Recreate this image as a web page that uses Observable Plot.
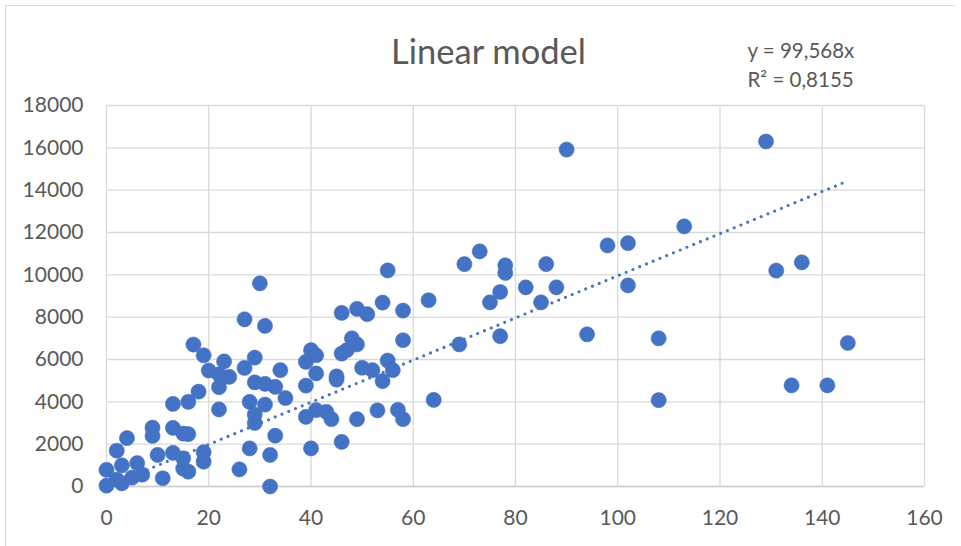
<!DOCTYPE html>
<html>
<head>
<meta charset="utf-8">
<script src="https://cdn.jsdelivr.net/npm/d3@7"></script>
<script src="https://cdn.jsdelivr.net/npm/@observablehq/plot@0.6"></script>
<style>
  html, body { margin: 0; padding: 0; background: #fff; }
  #wrap { position: relative; width: 961px; height: 546px; overflow: hidden; }
  #border { position: absolute; left: 5px; top: 5px; width: 949px; height: 600px;
            border-left: 1.5px solid #d9d9d9; border-top: 1.5px solid #d9d9d9; }
</style>
</head>
<body>
<div id="wrap"><div id="border"></div></div>
<script>
const chartTitle = "Linear model";
const equationLines = ["y = 99,568x", "R\u00B2 = 0,8155"];
const trendSlope = 99.568;

const xTicks = [0, 20, 40, 60, 80, 100, 120, 140, 160];
const yTicks = [0, 2000, 4000, 6000, 8000, 10000, 12000, 14000, 16000, 18000];

const xValues = [
  0, 0, 2, 2, 3, 3, 4, 5, 6, 7, 11, 10, 9, 9, 13, 13, 13, 15, 16, 15, 15, 16, 16, 17, 18, 19, 19, 19,
  20, 22, 24, 23, 22, 22, 27, 30, 31, 29, 27, 34, 29, 31, 33, 35, 28, 31, 29, 29, 33, 28, 32, 26, 32,
  39, 39, 40, 41, 41, 40, 39, 41, 43, 44, 45, 45, 46, 46, 49, 51, 54, 55, 58, 63, 58, 48, 49, 46, 47,
  50, 52, 55, 56, 54, 64, 53, 57, 58, 49,
  69, 70, 73, 75, 77, 77, 78, 78, 82, 85, 86, 88, 90, 94, 98, 102, 102, 108, 108, 113,
  129, 131, 136, 134, 141, 145
];
const yValues = [
  790, 40, 1690, 330, 1000, 150, 2290, 420, 1110, 560, 390, 1490, 2780, 2390, 2770, 3900, 1590, 2500, 2475, 1330, 850, 700, 4000, 6707, 4480, 6200, 1620, 1170,
  5480, 5300, 5180, 5910, 4690, 3640, 7900, 9600, 7585, 6090, 5600, 5495, 4920, 4850, 4710, 4180, 4000, 3870, 3400, 3000, 2400, 1800, 1490, 810, 0,
  5890, 4770, 6440, 6200, 5340, 1800, 3290, 3610, 3530, 3180, 5200, 5050, 2110, 8200, 8390, 8140, 8690, 10210, 8310, 8800, 6910, 7000, 6710, 6280, 6440,
  5610, 5495, 5950, 5495, 4980, 4090, 3600, 3620, 3180, 3180,
  6710, 10510, 11110, 8700, 9190, 7100, 10450, 10090, 9410, 8700, 10510, 9410, 15920, 7190, 11390, 11500, 9500, 7000, 4080, 12290,
  16300, 10200, 10590, 4780, 4780, 6780
];

const points = xValues.map((x, i) => ({x, y: yValues[i]}));
const xMax = d3.max(xValues);
const trend = [0, xMax].map(x => ({x, y: trendSlope * x}));

const plot = Plot.plot({
  width: 961,
  height: 546,
  marginLeft: 106,
  marginRight: 37,
  marginTop: 105,
  marginBottom: 60,
  style: {fontFamily: "Lato, sans-serif", color: "#595959", background: "transparent"},
  x: {domain: [0, 160], ticks: xTicks, label: null},
  y: {domain: [0, 18000], ticks: yTicks, label: null},
  marks: [
    Plot.gridX(xTicks, {stroke: "#d9d9d9", strokeOpacity: 1, strokeWidth: 1.3}),
    Plot.gridY(yTicks, {stroke: "#d9d9d9", strokeOpacity: 1, strokeWidth: 1.3}),
    Plot.ruleY([0], {stroke: "#cfcfcf", strokeWidth: 1.6}),
    Plot.axisX(xTicks, {tickSize: 0, tickPadding: 24, fontSize: 21, label: null, tickFormat: d => String(d)}),
    Plot.axisY(yTicks, {tickSize: 0, tickPadding: 23, fontSize: 21, label: null, tickFormat: d => String(d)}),
    Plot.dot(points, {x: "x", y: "y", r: 7.6, fill: "#4472C4", stroke: "#4472C4", strokeWidth: 0.5}),
    Plot.line(trend, {x: "x", y: "y", stroke: "#4472C4", strokeWidth: 3.2, strokeDasharray: "0 7.3", strokeLinecap: "round"}),
    Plot.text([chartTitle], {frameAnchor: "top", text: d => d, dx: -27, dy: -42, lineAnchor: "bottom", fontSize: 34.5, fill: "#595959"}),
    Plot.text([equationLines[0]], {frameAnchor: "top-left", text: d => d, textAnchor: "start", dx: 641, dy: -48, lineAnchor: "bottom", fontSize: 20.5, fill: "#595959"}),
    Plot.text([equationLines[1]], {frameAnchor: "top-left", text: d => d, textAnchor: "start", dx: 641, dy: -19, lineAnchor: "bottom", fontSize: 20.5, fill: "#595959"})
  ]
});
plot.style.position = "absolute";
plot.style.left = "0px";
plot.style.top = "0px";
document.getElementById("wrap").appendChild(plot);
</script>
</body>
</html>
